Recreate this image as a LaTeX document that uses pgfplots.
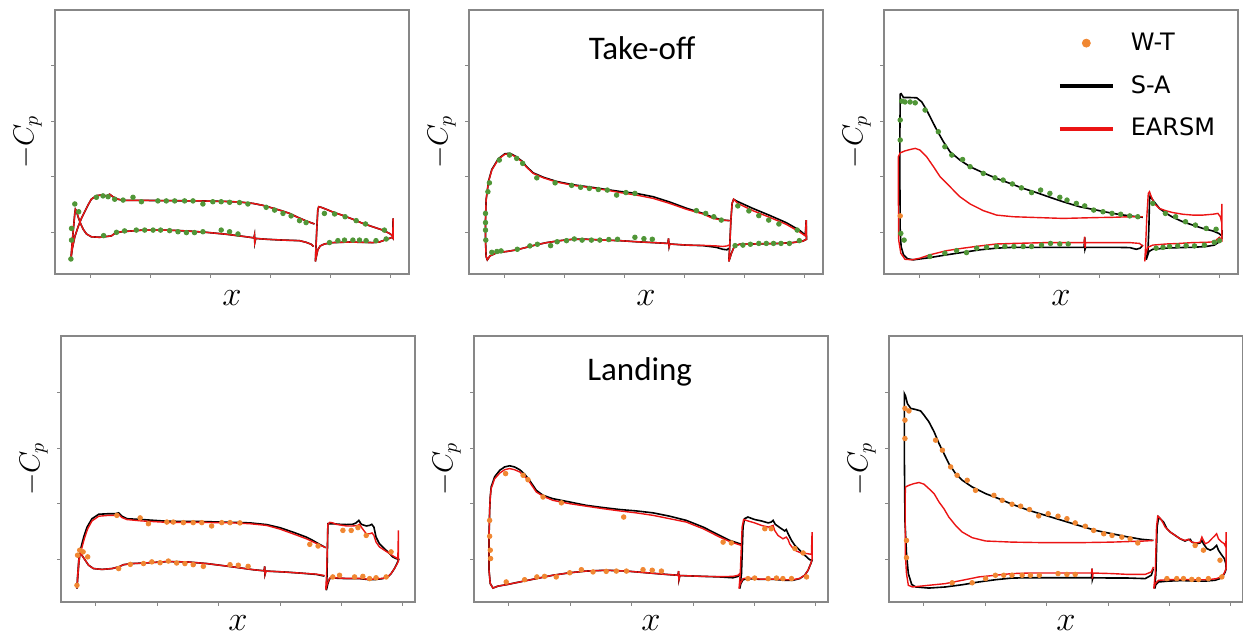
\documentclass[border=0pt]{standalone}
\usepackage{fontspec}
\setmainfont{Carlito}
\newfontfamily\legfont{DejaVu Sans}
\usepackage{pgfplots}
\usepackage{pgfplotstable}
\pgfplotsset{compat=1.18}
\definecolor{wtgreen}{RGB}{80,150,55}
\definecolor{wtorange}{RGB}{240,135,50}
\definecolor{ered}{RGB}{235,20,20}
\definecolor{framegray}{RGB}{135,135,135}
\pgfplotsset{
  panelbase/.style={
    scale only axis, width=177pt,
    xtick={0,0.2,0.4,0.6,0.8,1}, ytick={0,2,4,6},
    xticklabel=\relax, yticklabel=\relax,
    tick align=outside, xtick pos=bottom, ytick pos=left,
    major tick length=1.8pt,
    tick style={framegray, line width=0.5pt},
    axis line style={framegray, line width=0.55pt},
    xlabel={$x$}, ylabel={$-C_p$},
    ylabel style={at={(axis description cs:-0.077,0.5)}, anchor=center, font=\fontsize{14.5}{15}\selectfont},
  },
  toprow/.style={panelbase, height=132pt, xmin=-0.118, xmax=1.062, ymin=-1.5, ymax=8,
    xlabel style={at={(axis description cs:0.5,-0.09)}, anchor=center, font=\fontsize{16.5}{17}\selectfont}},
  botrow/.style={panelbase, height=133pt, xmin=-0.114, xmax=1.04, ymin=-1.52, ymax=8.03,
    xlabel style={at={(axis description cs:0.5,-0.078)}, anchor=center, font=\fontsize{16.5}{17}\selectfont}},
  sa/.style={black, line width=0.8pt, no marks},
  ea/.style={ered, line width=0.7pt, no marks},
  wtg/.style={only marks, mark=*, mark size=1.15pt, color=wtgreen},
  wto/.style={only marks, mark=*, mark size=1.15pt, color=wtorange},
}
% ---------------- Panel 1 tables
\pgfplotstableread{
x y
0.747 0.30
0.719 0.41
0.691 0.54
0.664 0.68
0.636 0.78
0.608 0.87
0.575 0.97
0.542 1.04
0.497 1.09
0.453 1.11
0.364 1.13
0.253 1.14
0.164 1.15
0.109 1.15
0.092 1.19
0.075 1.28
0.064 1.37
0.053 1.31
0.037 1.34
0.020 1.32
0.003 1.19
-0.008 0.98
-0.019 0.74
-0.030 0.50
-0.041 0.20
-0.052 -0.16
-0.060 -0.57
-0.065 -0.96
-0.063 -0.69
-0.060 -0.28
-0.055 0.32
-0.052 0.68
-0.050 0.83
-0.047 0.78
-0.041 0.56
-0.033 0.32
-0.024 0.11
-0.013 -0.06
0.003 -0.16
0.031 -0.18
0.070 -0.13
0.081 -0.04
0.103 0.02
0.175 0.08
0.253 0.08
0.320 0.05
0.386 0.00
0.453 -0.07
0.519 -0.16
0.545 -0.20
0.547 -0.10
0.548 -0.37
0.551 -0.22
0.586 -0.25
0.642 -0.28
0.697 -0.30
0.719 -0.36
0.736 -0.43
0.744 -0.51
}\POneMain
\pgfplotstableread{
x y
0.750 -1.05
0.752 -0.51
0.755 0.20
0.758 0.80
0.761 0.92
0.769 0.90
0.786 0.83
0.808 0.73
0.841 0.61
0.875 0.47
0.908 0.32
0.941 0.20
0.974 0.08
0.997 -0.04
1.008 -0.13
1.009 0.50
1.009 -0.22
1.006 -0.18
0.991 -0.24
0.963 -0.35
0.941 -0.37
0.908 -0.36
0.863 -0.35
0.808 -0.37
0.780 -0.42
0.766 -0.49
0.758 -0.63
0.752 -0.93
0.750 -1.05
}\POneFlap
\begin{document}
\begin{tikzpicture}
\useasboundingbox (0pt,0pt) rectangle (621.5pt,318.5pt);
% ================= Panel 1
\begin{axis}[toprow, at={(27.5pt,181.5pt)}, anchor=south west]
\addplot[sa] table {\POneMain};
\addplot[sa] table {\POneFlap};
\addplot[ea] table {\POneMain};
\addplot[ea] table {\POneFlap};
\addplot[wtg] coordinates {(-0.065,-0.96) (-0.063,-0.28) (-0.063,0.14) (-0.052,1.02) (-0.039,0.74)
(0.020,1.26) (0.042,1.31) (0.059,1.28) (0.081,1.19) (0.109,1.16) (0.142,1.26) (0.170,1.10) (0.225,1.13)
(0.253,1.13) (0.281,1.13) (0.314,1.13) (0.342,1.13) (0.375,1.02) (0.408,1.10) (0.436,1.10) (0.464,1.08)
(0.497,1.07) (0.525,1.02) (0.586,0.90) (0.614,0.80) (0.642,0.68) (0.669,0.59) (0.697,0.42) (0.719,0.35)
(0.044,-0.12) (0.087,0.00) (0.114,0.05) (0.153,0.08) (0.181,0.08) (0.209,0.08) (0.234,0.08) (0.264,0.06)
(0.292,0.02) (0.320,-0.01) (0.347,-0.01) (0.375,0.02) (0.436,0.08) (0.464,0.02) (0.492,-0.06)
(0.780,0.68) (0.814,0.66) (0.849,0.56) (0.886,0.42) (0.917,0.30) (0.980,0.08)
(0.797,-0.37) (0.825,-0.30) (0.847,-0.28) (0.875,-0.28) (0.897,-0.28) (0.919,-0.30) (0.952,-0.30) (0.986,-0.24)};
\end{axis}
% ================= Panel 2
\begin{axis}[toprow, at={(234.5pt,181.5pt)}, anchor=south west]
\addplot[sa] coordinates {(0.751,0.42) (0.728,0.44) (0.695,0.54) (0.662,0.68) (0.606,0.87) (0.551,1.09)
(0.496,1.28) (0.440,1.40) (0.385,1.47) (0.340,1.54) (0.285,1.63) (0.229,1.71) (0.174,1.83) (0.130,1.98)
(0.096,2.14) (0.074,2.36) (0.058,2.57) (0.035,2.75) (0.019,2.84) (0.002,2.83) (-0.020,2.65) (-0.042,2.26)
(-0.053,1.84) (-0.061,1.16) (-0.063,0.44) (-0.063,-0.28) (-0.061,-0.87) (-0.057,-0.99) (-0.048,-0.85)
(-0.025,-0.73) (0.008,-0.69) (0.041,-0.63) (0.074,-0.54) (0.102,-0.46) (0.141,-0.37) (0.185,-0.30)
(0.229,-0.25) (0.274,-0.25) (0.329,-0.28) (0.385,-0.30) (0.440,-0.34) (0.496,-0.37) (0.545,-0.40)
(0.547,-0.22) (0.549,-0.51) (0.551,-0.42) (0.606,-0.46) (0.662,-0.48) (0.706,-0.54) (0.728,-0.61)
(0.742,-0.63) (0.748,-0.57)};
\addplot[sa] coordinates {(0.748,-1.05) (0.751,-0.51) (0.755,0.44) (0.759,1.04) (0.764,1.19) (0.773,1.13)
(0.828,0.86) (0.884,0.61) (0.939,0.35) (0.983,0.08) (1.003,-0.10) (1.006,0.44) (1.007,-0.25) (0.994,-0.32)
(0.961,-0.37) (0.917,-0.40) (0.873,-0.41) (0.828,-0.42) (0.784,-0.43) (0.767,-0.49) (0.757,-0.75) (0.748,-1.05)};
\addplot[ea] coordinates {(0.751,0.42) (0.728,0.44) (0.695,0.50) (0.662,0.66) (0.606,0.83) (0.551,1.04)
(0.496,1.22) (0.440,1.34) (0.385,1.43) (0.340,1.52) (0.285,1.61) (0.229,1.69) (0.174,1.81) (0.130,1.96)
(0.096,2.12) (0.074,2.34) (0.058,2.55) (0.035,2.73) (0.019,2.82) (0.002,2.81) (-0.020,2.63) (-0.042,2.24)
(-0.053,1.82) (-0.061,1.16) (-0.063,0.44) (-0.063,-0.28) (-0.061,-0.87) (-0.057,-0.99) (-0.048,-0.85)
(-0.025,-0.73) (0.008,-0.69) (0.041,-0.63) (0.074,-0.54) (0.102,-0.46) (0.141,-0.37) (0.185,-0.30)
(0.229,-0.25) (0.274,-0.25) (0.329,-0.28) (0.385,-0.30) (0.440,-0.34) (0.496,-0.37) (0.545,-0.40)
(0.547,-0.22) (0.549,-0.51) (0.551,-0.42) (0.606,-0.46) (0.662,-0.47) (0.706,-0.49) (0.728,-0.51)
(0.742,-0.49) (0.748,-0.46)};
\addplot[ea] coordinates {(0.748,-1.05) (0.751,-0.51) (0.755,0.44) (0.759,1.04) (0.764,1.19) (0.778,1.04)
(0.828,0.78) (0.884,0.54) (0.939,0.29) (0.983,0.02) (1.003,-0.13) (1.006,0.44) (1.007,-0.25) (0.994,-0.32)
(0.961,-0.37) (0.917,-0.40) (0.873,-0.41) (0.828,-0.42) (0.784,-0.43) (0.767,-0.49) (0.757,-0.75) (0.748,-1.05)};
\addplot[wtg] coordinates {(-0.063,0.68) (-0.063,0.35) (-0.063,0.08) (-0.062,-0.28) (-0.055,1.46) (-0.050,1.78)
(-0.017,2.60) (0.017,2.78) (0.041,2.66) (0.061,2.48) (0.108,1.96) (0.169,1.78) (0.224,1.69) (0.254,1.62)
(0.283,1.58) (0.313,1.54) (0.343,1.52) (0.374,1.34) (0.405,1.43) (0.435,1.40) (0.640,0.78) (0.671,0.68)
(0.698,0.56) (0.723,0.44)
(-0.042,-0.72) (-0.025,-0.69) (-0.011,-0.67) (0.043,-0.61) (0.085,-0.49) (0.110,-0.43) (0.154,-0.48)
(0.176,-0.34) (0.207,-0.30) (0.233,-0.24) (0.259,-0.28) (0.290,-0.28) (0.318,-0.28) (0.348,-0.26)
(0.377,-0.25) (0.435,-0.18) (0.465,-0.23) (0.493,-0.25)
(0.778,0.95) (0.815,0.77) (0.848,0.60) (0.881,0.44) (0.915,0.30) (0.976,0.08)
(0.769,-0.48) (0.795,-0.46) (0.820,-0.43) (0.848,-0.40) (0.873,-0.40) (0.897,-0.40) (0.922,-0.40)
(0.950,-0.40) (0.983,-0.30)};
\node[font=\fontsize{16.5}{17}\selectfont] at (axis description cs:0.489,0.856) {Take-off};
\end{axis}
% ================= Panel 3
\begin{axis}[toprow, at={(442pt,181.5pt)}, anchor=south west,
  legend style={at={(axis description cs:0.49,0.93)}, anchor=north west, draw=none, fill=none,
    font=\legfont\fontsize{12}{12}\selectfont, row sep=7pt, column sep=6pt, inner sep=0pt},
  legend cell align=left]
\addlegendimage{legend image code/.code={\fill[wtorange] (0.465cm,0cm) circle (2pt);}}
\addlegendentry{W-T}
\addlegendimage{legend image code/.code={\draw[black, line width=2pt] (0cm,0cm) -- (0.93cm,0cm);}}
\addlegendentry{S-A}
\addlegendimage{legend image code/.code={\draw[ered, line width=2pt] (0cm,0cm) -- (0.93cm,0cm);}}
\addlegendentry{EARSM}
\addplot[sa, forget plot] coordinates {(0.745,0.54) (0.701,0.59) (0.645,0.68) (0.590,0.80) (0.534,0.92)
(0.479,1.10) (0.435,1.26) (0.390,1.43) (0.346,1.58) (0.302,1.76) (0.257,1.94) (0.213,2.14) (0.169,2.36)
(0.135,2.60) (0.102,2.90) (0.080,3.26) (0.058,3.68) (0.041,4.04) (0.024,4.40) (0.008,4.69) (-0.009,4.84)
(-0.031,4.85) (-0.053,4.85) (-0.061,4.99) (-0.064,4.97) (-0.065,3.56) (-0.065,1.76) (-0.064,0.08)
(-0.061,-0.51) (-0.053,-0.81) (-0.040,-0.95) (-0.020,-0.99) (0.035,-0.91) (0.091,-0.81) (0.146,-0.72)
(0.202,-0.63) (0.257,-0.57) (0.313,-0.54) (0.424,-0.54) (0.545,-0.54) (0.549,-0.54) (0.551,-0.18)
(0.552,-0.61) (0.554,-0.54) (0.645,-0.54) (0.701,-0.55) (0.723,-0.61) (0.736,-0.57) (0.745,-0.46)};
\addplot[sa, forget plot] coordinates {(0.756,-0.99) (0.762,-0.63) (0.765,0.20) (0.767,1.16) (0.769,1.31)
(0.778,1.16) (0.800,0.86) (0.823,0.68) (0.845,0.54) (0.878,0.38) (0.911,0.26) (0.945,0.14) (0.978,0.05)
(0.998,-0.04) (1.008,-0.13) (1.009,0.08) (1.008,-0.22) (1.000,-0.34) (0.983,-0.46) (0.956,-0.51)
(0.911,-0.54) (0.867,-0.55) (0.823,-0.57) (0.778,-0.61) (0.765,-0.69) (0.756,-0.99)};
\addplot[ea, forget plot] coordinates {(0.745,0.56) (0.701,0.56) (0.645,0.54) (0.590,0.53) (0.479,0.50)
(0.368,0.54) (0.313,0.56) (0.257,0.62) (0.213,0.78) (0.169,1.02) (0.135,1.28) (0.102,1.64) (0.069,2.00)
(0.047,2.36) (0.024,2.72) (0.002,2.96) (-0.014,3.02) (-0.031,2.98) (-0.048,2.93) (-0.064,2.86)
(-0.070,2.72) (-0.070,1.16) (-0.069,-0.28) (-0.062,-0.75) (-0.048,-0.97) (-0.025,-0.99) (0.002,-0.93)
(0.035,-0.81) (0.091,-0.66) (0.146,-0.57) (0.202,-0.49) (0.257,-0.42) (0.313,-0.40) (0.424,-0.37)
(0.545,-0.37) (0.549,-0.37) (0.551,-0.16) (0.552,-0.57) (0.554,-0.37) (0.645,-0.37) (0.701,-0.37)
(0.734,-0.40) (0.745,-0.51)};
\addplot[ea, forget plot] coordinates {(0.751,-1.05) (0.754,-0.51) (0.758,0.56) (0.763,1.40) (0.767,1.46)
(0.773,1.28) (0.784,1.02) (0.800,0.86) (0.823,0.77) (0.845,0.71) (0.878,0.65) (0.911,0.62) (0.945,0.62)
(0.978,0.65) (0.995,0.68) (1.003,0.56) (1.007,0.38) (1.008,1.02) (1.008,-0.28) (1.000,-0.18) (0.983,-0.34)
(0.956,-0.36) (0.911,-0.37) (0.867,-0.40) (0.823,-0.42) (0.778,-0.46) (0.761,-0.54) (0.754,-0.81) (0.751,-1.05)};
\addplot[wtg, forget plot] coordinates {(-0.059,4.72) (-0.048,4.69) (-0.031,4.69) (-0.014,4.66) (0.019,4.40)
(0.063,3.62) (0.085,3.08) (0.108,2.78) (0.144,2.62) (0.169,2.36) (0.213,2.12) (0.252,1.96) (0.279,1.88)
(0.310,1.74) (0.340,1.60) (0.374,1.43) (0.404,1.52) (0.435,1.40) (0.468,1.26) (0.492,1.16) (0.523,1.04)
(0.551,0.95) (0.581,0.80) (0.612,0.74) (0.642,0.68) (0.671,0.65) (0.701,0.59) (0.728,0.56)
(-0.064,4.04) (-0.064,3.32) (-0.062,-0.04) (-0.051,-0.28)
(0.035,-0.87) (0.085,-0.75) (0.124,-0.66) (0.157,-0.73) (0.191,-0.57) (0.224,-0.54) (0.257,-0.51)
(0.285,-0.51) (0.315,-0.51) (0.346,-0.51) (0.374,-0.51) (0.407,-0.46) (0.437,-0.40) (0.468,-0.42) (0.496,-0.42)
(0.778,1.04) (0.820,0.68) (0.854,0.56) (0.887,0.38) (0.920,0.26) (0.956,0.14) (0.989,0.11)
(0.789,-0.57) (0.812,-0.54) (0.834,-0.51) (0.861,-0.49) (0.889,-0.48) (0.917,-0.49) (0.950,-0.46)
(0.983,-0.36) (1.000,-0.30)};
\addplot[wto, forget plot] coordinates {(-0.064,0.59)};
\end{axis}
% ================= Panel 4
\begin{axis}[botrow, at={(30.5pt,17.5pt)}, anchor=south west]
\addplot[sa] coordinates {(0.749,0.43) (0.729,0.55) (0.707,0.69) (0.686,0.81) (0.642,0.99) (0.599,1.15)
(0.556,1.26) (0.502,1.32) (0.447,1.34) (0.339,1.37) (0.231,1.38) (0.150,1.44) (0.101,1.47) (0.085,1.56)
(0.074,1.68) (0.063,1.65) (0.041,1.65) (0.009,1.63) (-0.013,1.47) (-0.029,1.17) (-0.040,0.81)
(-0.051,0.34) (-0.056,-0.02) (-0.060,-0.62) (-0.062,-1.04) (-0.060,-0.74) (-0.056,-0.14) (-0.053,0.16)
(-0.049,0.22) (-0.046,0.16) (-0.035,-0.02) (-0.024,-0.20) (-0.008,-0.32) (0.020,-0.35) (0.052,-0.32)
(0.074,-0.26) (0.090,-0.18) (0.117,-0.14) (0.160,-0.12) (0.231,-0.07) (0.296,-0.08) (0.361,-0.14)
(0.447,-0.26) (0.512,-0.36) (0.548,-0.40) (0.550,-0.24) (0.551,-0.53) (0.554,-0.41) (0.610,-0.44)
(0.664,-0.48) (0.718,-0.53) (0.745,-0.59)};
\addplot[sa] coordinates {(0.751,-1.10) (0.753,-0.62) (0.756,1.29) (0.772,1.29) (0.794,1.27) (0.816,1.26)
(0.837,1.27) (0.848,1.32) (0.857,1.41) (0.865,1.27) (0.881,1.21) (0.892,1.23) (0.899,1.27) (0.906,1.17)
(0.913,0.81) (0.924,0.57) (0.940,0.40) (0.957,0.22) (0.967,0.10) (0.978,0.04) (0.987,0.01) (0.981,-0.14)
(0.973,-0.32) (0.962,-0.50) (0.951,-0.62) (0.935,-0.68) (0.913,-0.71) (0.892,-0.72) (0.859,-0.68)
(0.816,-0.68) (0.772,-0.66) (0.762,-0.68) (0.756,-0.86) (0.751,-1.10)};
\addplot[ea] coordinates {(0.749,0.43) (0.729,0.53) (0.686,0.75) (0.642,0.93) (0.599,1.10) (0.556,1.23)
(0.502,1.29) (0.447,1.32) (0.339,1.34) (0.231,1.34) (0.150,1.39) (0.101,1.44) (0.085,1.51) (0.074,1.62)
(0.063,1.59) (0.041,1.59) (0.009,1.56) (-0.013,1.39) (-0.027,1.11) (-0.038,0.75) (-0.048,0.34)
(-0.056,-0.02) (-0.060,-0.62) (-0.062,-1.04) (-0.060,-0.74) (-0.056,-0.14) (-0.053,0.16)
(-0.049,0.22) (-0.046,0.16) (-0.035,-0.02) (-0.024,-0.20) (-0.008,-0.32) (0.020,-0.35) (0.052,-0.32)
(0.074,-0.26) (0.090,-0.18) (0.117,-0.14) (0.160,-0.12) (0.231,-0.07) (0.296,-0.08) (0.361,-0.14)
(0.447,-0.26) (0.512,-0.36) (0.548,-0.40) (0.550,-0.24) (0.551,-0.53) (0.554,-0.41) (0.610,-0.44)
(0.664,-0.48) (0.718,-0.52) (0.745,-0.57)};
\addplot[ea] coordinates {(0.749,-1.08) (0.752,-0.50) (0.756,1.27) (0.762,1.34) (0.772,1.32) (0.783,1.27)
(0.816,1.21) (0.837,1.21) (0.854,1.23) (0.859,1.27) (0.865,1.17) (0.881,0.93) (0.892,0.93) (0.900,0.96)
(0.906,0.87) (0.913,0.63) (0.924,0.46) (0.940,0.34) (0.957,0.22) (0.973,0.10) (0.984,0.04) (0.986,1.05)
(0.986,-0.05) (0.981,-0.17) (0.973,-0.32) (0.962,-0.50) (0.951,-0.62) (0.935,-0.67) (0.913,-0.69)
(0.892,-0.71) (0.859,-0.67) (0.816,-0.67) (0.772,-0.65) (0.762,-0.66) (0.754,-0.86) (0.749,-1.08)};
\addplot[wto] coordinates {(-0.062,-0.92) (-0.060,0.16) (-0.053,0.34) (-0.042,0.28) (-0.027,0.10)
(0.068,1.59) (0.144,1.50) (0.171,1.29) (0.231,1.35) (0.252,1.35) (0.285,1.33) (0.317,1.33) (0.345,1.33)
(0.377,1.21) (0.410,1.33) (0.437,1.33) (0.469,1.32) (0.697,0.55) (0.724,0.49)
(0.074,-0.32) (0.112,-0.17) (0.155,-0.14) (0.182,-0.08) (0.209,-0.11) (0.236,-0.05) (0.263,-0.12)
(0.290,-0.14) (0.317,-0.18) (0.350,-0.24) (0.437,-0.18) (0.464,-0.20) (0.496,-0.24)
(0.805,1.05) (0.832,1.05) (0.854,1.15) (0.881,0.87) (0.962,0.28)
(0.772,-0.62) (0.794,-0.56) (0.843,-0.62) (0.870,-0.60) (0.892,-0.68) (0.913,-0.65) (0.946,-0.62)};
\end{axis}
% ================= Panel 5
\begin{axis}[botrow, at={(237pt,17.5pt)}, anchor=south west]
\addplot[sa] coordinates {(0.758,0.55) (0.720,0.69) (0.687,0.87) (0.633,1.17) (0.578,1.41) (0.524,1.56)
(0.470,1.68) (0.415,1.75) (0.361,1.80) (0.307,1.87) (0.252,1.95) (0.198,2.07) (0.143,2.19) (0.111,2.31)
(0.089,2.49) (0.078,2.67) (0.067,2.85) (0.051,3.07) (0.035,3.23) (0.018,3.33) (0.002,3.37) (-0.014,3.33)
(-0.030,3.21) (-0.047,2.97) (-0.058,2.61) (-0.061,2.25) (-0.063,1.77) (-0.065,0.81) (-0.065,-0.38)
(-0.061,-0.86) (-0.052,-1.02) (-0.036,-0.95) (-0.009,-0.90) (0.035,-0.80) (0.089,-0.68) (0.143,-0.56)
(0.198,-0.47) (0.252,-0.41) (0.317,-0.38) (0.383,-0.41) (0.448,-0.47) (0.513,-0.53) (0.551,-0.56)
(0.553,-0.41) (0.554,-0.72) (0.557,-0.57) (0.633,-0.60) (0.687,-0.62) (0.730,-0.65) (0.747,-0.60) (0.754,-0.50)};
\addplot[sa] coordinates {(0.752,-1.04) (0.758,-0.50) (0.763,1.17) (0.768,1.47) (0.779,1.53) (0.801,1.44)
(0.823,1.39) (0.845,1.32) (0.855,1.35) (0.861,1.41) (0.868,1.27) (0.883,1.15) (0.899,1.03) (0.904,1.08)
(0.910,0.93) (0.921,0.69) (0.932,0.51) (0.942,0.40) (0.953,0.28) (0.970,0.10) (0.980,0.00) (0.988,-0.02)
(0.984,-0.14) (0.975,-0.38) (0.964,-0.56) (0.948,-0.68) (0.926,-0.74) (0.899,-0.74) (0.866,-0.71)
(0.823,-0.71) (0.779,-0.68) (0.763,-0.72) (0.756,-0.86) (0.752,-1.04)};
\addplot[ea] coordinates {(0.758,0.51) (0.720,0.65) (0.687,0.81) (0.633,1.11) (0.578,1.35) (0.524,1.47)
(0.470,1.59) (0.415,1.68) (0.361,1.75) (0.307,1.83) (0.252,1.92) (0.198,2.01) (0.143,2.13) (0.111,2.28)
(0.089,2.43) (0.078,2.61) (0.067,2.79) (0.051,2.99) (0.035,3.15) (0.018,3.23) (0.002,3.27) (-0.014,3.23)
(-0.030,3.11) (-0.047,2.90) (-0.058,2.55) (-0.061,2.25) (-0.063,1.77) (-0.065,0.81) (-0.065,-0.38)
(-0.061,-0.86) (-0.052,-1.02) (-0.036,-0.95) (-0.009,-0.90) (0.035,-0.80) (0.089,-0.68) (0.143,-0.56)
(0.198,-0.47) (0.252,-0.41) (0.317,-0.38) (0.383,-0.41) (0.448,-0.47) (0.513,-0.53) (0.551,-0.56)
(0.553,-0.41) (0.554,-0.72) (0.557,-0.57) (0.633,-0.60) (0.687,-0.61) (0.730,-0.60) (0.747,-0.56) (0.754,-0.48)};
\addplot[ea] coordinates {(0.750,-1.04) (0.754,-0.50) (0.760,1.17) (0.765,1.44) (0.779,1.39) (0.801,1.32)
(0.823,1.23) (0.845,1.17) (0.855,1.20) (0.861,1.23) (0.866,1.05) (0.877,0.87) (0.893,0.75) (0.904,0.81)
(0.910,0.72) (0.915,0.57) (0.926,0.40) (0.937,0.31) (0.953,0.24) (0.970,0.22) (0.986,0.19) (0.988,0.99)
(0.988,0.02) (0.984,-0.14) (0.975,-0.38) (0.964,-0.56) (0.948,-0.67) (0.926,-0.72) (0.899,-0.72)
(0.866,-0.70) (0.823,-0.70) (0.779,-0.66) (0.763,-0.68) (0.754,-0.86) (0.750,-1.04)};
\addplot[wto] coordinates {(-0.063,1.41) (-0.063,0.84) (-0.061,0.34) (-0.060,0.04) (-0.011,3.09) (0.046,3.03)
(0.062,2.87) (0.111,2.25) (0.171,2.04) (0.374,1.53) (0.698,0.63) (0.725,0.60)
(-0.009,-0.80) (0.051,-0.72) (0.091,-0.62) (0.116,-0.60) (0.154,-0.62) (0.198,-0.47) (0.236,-0.36)
(0.274,-0.44) (0.317,-0.42) (0.350,-0.41) (0.383,-0.41) (0.437,-0.36) (0.467,-0.38) (0.497,-0.41)
(0.834,1.11) (0.855,1.11) (0.932,0.40) (0.959,0.24)
(0.779,-0.68) (0.801,-0.66) (0.845,-0.68) (0.872,-0.66) (0.893,-0.68) (0.921,-0.68) (0.970,-0.62)};
\node[font=\fontsize{16.5}{17}\selectfont] at (axis description cs:0.468,0.865) {Landing};
\end{axis}
% ================= Panel 6
\begin{axis}[botrow, at={(444.5pt,17.5pt)}, anchor=south west]
\addplot[sa] coordinates {(0.748,0.69) (0.710,0.73) (0.667,0.81) (0.613,0.93) (0.559,1.05) (0.504,1.23)
(0.450,1.41) (0.396,1.59) (0.342,1.77) (0.287,1.99) (0.244,2.19) (0.201,2.37) (0.157,2.61) (0.125,2.85)
(0.103,3.09) (0.081,3.45) (0.065,3.81) (0.049,4.17) (0.033,4.59) (0.016,4.95) (0.000,5.19) (-0.011,5.34)
(-0.027,5.39) (-0.043,5.43) (-0.054,5.60) (-0.060,5.87) (-0.064,5.96) (-0.064,3.81) (-0.062,1.41)
(-0.057,0.22) (-0.051,-0.50) (-0.040,-0.89) (-0.027,-0.98) (0.016,-1.02) (0.070,-0.98) (0.125,-0.90)
(0.179,-0.80) (0.233,-0.72) (0.287,-0.66) (0.342,-0.65) (0.450,-0.65) (0.546,-0.65) (0.548,-0.32)
(0.549,-0.72) (0.551,-0.65) (0.613,-0.66) (0.667,-0.66) (0.721,-0.68) (0.741,-0.56) (0.748,-0.32)};
\addplot[sa] coordinates {(0.752,-1.04) (0.756,-0.50) (0.760,1.17) (0.765,1.53) (0.770,1.47) (0.781,1.35)
(0.792,1.11) (0.803,0.99) (0.819,0.87) (0.835,0.75) (0.851,0.67) (0.862,0.72) (0.868,0.73) (0.873,0.63)
(0.889,0.57) (0.900,0.60) (0.906,0.69) (0.911,0.57) (0.922,0.40) (0.933,0.34) (0.944,0.40) (0.954,0.51)
(0.960,0.34) (0.971,0.16) (0.979,0.04) (0.984,-0.14) (0.985,-0.32) (0.982,-0.44) (0.976,-0.56)
(0.965,-0.68) (0.949,-0.74) (0.916,-0.77) (0.884,-0.77) (0.841,-0.75) (0.797,-0.77) (0.765,-0.80)
(0.756,-0.89) (0.752,-1.04)};
\addplot[ea] coordinates {(0.748,0.69) (0.721,0.67) (0.613,0.63) (0.504,0.61) (0.396,0.61) (0.287,0.63)
(0.201,0.67) (0.157,0.79) (0.125,0.99) (0.103,1.23) (0.081,1.53) (0.065,1.83) (0.049,2.07) (0.033,2.37)
(0.016,2.55) (0.000,2.71) (-0.016,2.77) (-0.033,2.73) (-0.049,2.67) (-0.060,2.61) (-0.061,2.37)
(-0.061,0.22) (-0.057,-0.50) (-0.051,-0.92) (-0.038,-0.98) (0.016,-0.92) (0.070,-0.86) (0.125,-0.74)
(0.179,-0.62) (0.233,-0.56) (0.287,-0.50) (0.342,-0.48) (0.450,-0.48) (0.546,-0.48) (0.548,-0.32)
(0.549,-0.68) (0.551,-0.48) (0.613,-0.50) (0.667,-0.53) (0.721,-0.53) (0.741,-0.44) (0.748,-0.26)};
\addplot[ea] coordinates {(0.749,-1.04) (0.754,-0.50) (0.758,1.17) (0.762,1.56) (0.768,1.51) (0.775,1.41)
(0.786,1.17) (0.803,0.99) (0.819,0.87) (0.835,0.75) (0.851,0.69) (0.862,0.73) (0.873,0.63) (0.889,0.60)
(0.900,0.63) (0.906,0.81) (0.911,0.69) (0.917,0.57) (0.928,0.63) (0.938,0.75) (0.949,0.87) (0.954,0.93)
(0.960,0.75) (0.971,0.63) (0.979,0.57) (0.984,0.46) (0.985,0.99) (0.985,-0.32) (0.979,-0.48)
(0.971,-0.60) (0.954,-0.68) (0.927,-0.72) (0.884,-0.72) (0.841,-0.71) (0.797,-0.72) (0.765,-0.74)
(0.754,-0.86) (0.749,-1.04)};
\addplot[wto] coordinates {(-0.062,5.43) (-0.062,5.01) (-0.062,4.35) (-0.057,0.69) (-0.057,0.07) (-0.049,5.34)
(0.038,4.29) (0.060,3.93) (0.087,3.33) (0.108,3.03) (0.141,2.85) (0.168,2.49) (0.228,2.31) (0.255,2.13)
(0.287,1.99) (0.315,1.92) (0.344,1.80) (0.374,1.57) (0.405,1.65) (0.437,1.56) (0.466,1.47) (0.493,1.32)
(0.526,1.20) (0.553,1.05) (0.586,0.93) (0.613,0.87) (0.645,0.81) (0.672,0.75) (0.697,0.60)
(0.092,-0.83) (0.157,-0.83) (0.201,-0.68) (0.233,-0.56) (0.260,-0.56) (0.287,-0.56) (0.320,-0.56)
(0.347,-0.56) (0.376,-0.56) (0.437,-0.50) (0.466,-0.53) (0.493,-0.53)
(0.884,0.51) (0.911,0.34) (0.965,-0.02)
(0.792,-0.68) (0.824,-0.68) (0.846,-0.68) (0.873,-0.71) (0.895,-0.71) (0.927,-0.68) (0.971,-0.62)};
\end{axis}
\end{tikzpicture}
\end{document}
